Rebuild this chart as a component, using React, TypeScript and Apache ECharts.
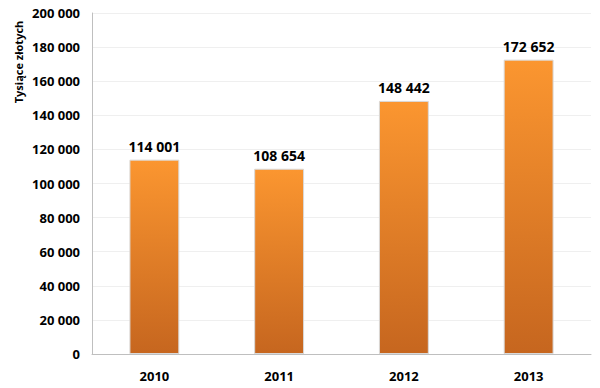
import React, { useEffect, useRef } from "react";
import * as echarts from "echarts";

const categories = ["2010", "2011", "2012", "2013"];
const values = [114001, 108654, 148442, 172652];
const yTicks = { min: 0, max: 200000, interval: 20000 };
const yAxisTitle = "Tysiące złotych";

const fmt = (v: number) => String(v).replace(/\B(?=(\d{3})+(?!\d))/g, " ");

export default function App() {
  const ref = useRef<HTMLDivElement>(null);
  useEffect(() => {
    const chart = echarts.init(ref.current!, null, { renderer: "svg" });
    const font = "Open Sans, Liberation Sans, sans-serif";
    chart.setOption({
      animation: false,
      backgroundColor: "#ffffff",
      grid: { left: 92, right: 9, top: 13, bottom: 34 },
      xAxis: {
        type: "category",
        data: categories,
        axisLine: { lineStyle: { color: "#bfbfbf", width: 1 } },
        axisTick: { show: false },
        axisLabel: { color: "#000", fontWeight: "bold", fontSize: 13, fontFamily: font, margin: 15 },
      },
      yAxis: {
        type: "value",
        min: yTicks.min,
        max: yTicks.max,
        interval: yTicks.interval,
        axisLine: { show: true, lineStyle: { color: "#bfbfbf", width: 1 } },
        axisTick: { show: false },
        splitLine: { lineStyle: { color: "#efefef", width: 1 } },
        axisLabel: {
          color: "#000",
          fontWeight: "bold",
          fontSize: 13,
          fontFamily: font,
          margin: 12,
          formatter: (v: number) => fmt(v),
        },
      },
      graphic: [
        {
          type: "text",
          x: 18,
          y: 62,
          rotation: Math.PI / 2,
          style: {
            text: yAxisTitle,
            fill: "#000",
            font: `bold 11px ${font}`,
            align: "center",
            verticalAlign: "middle",
          },
        },
      ],
      series: [
        {
          type: "bar",
          data: values,
          barWidth: "40%",
          itemStyle: {
            color: new echarts.graphic.LinearGradient(0, 0, 0, 1, [
              { offset: 0, color: "#fb9630" },
              { offset: 1, color: "#c6661f" },
            ]),
            borderColor: "#d9d9d9",
            borderWidth: 1,
          },
          label: {
            show: true,
            position: "top",
            distance: 6,
            color: "#000",
            fontWeight: "bold",
            fontSize: 14,
            fontFamily: font,
            formatter: (p: any) => fmt(p.value),
          },
        },
      ],
    });
    return () => chart.dispose();
  }, []);
  return <div ref={ref} style={{ width: 600, height: 388, position: "absolute", left: 0, top: 0 }} />;
}
